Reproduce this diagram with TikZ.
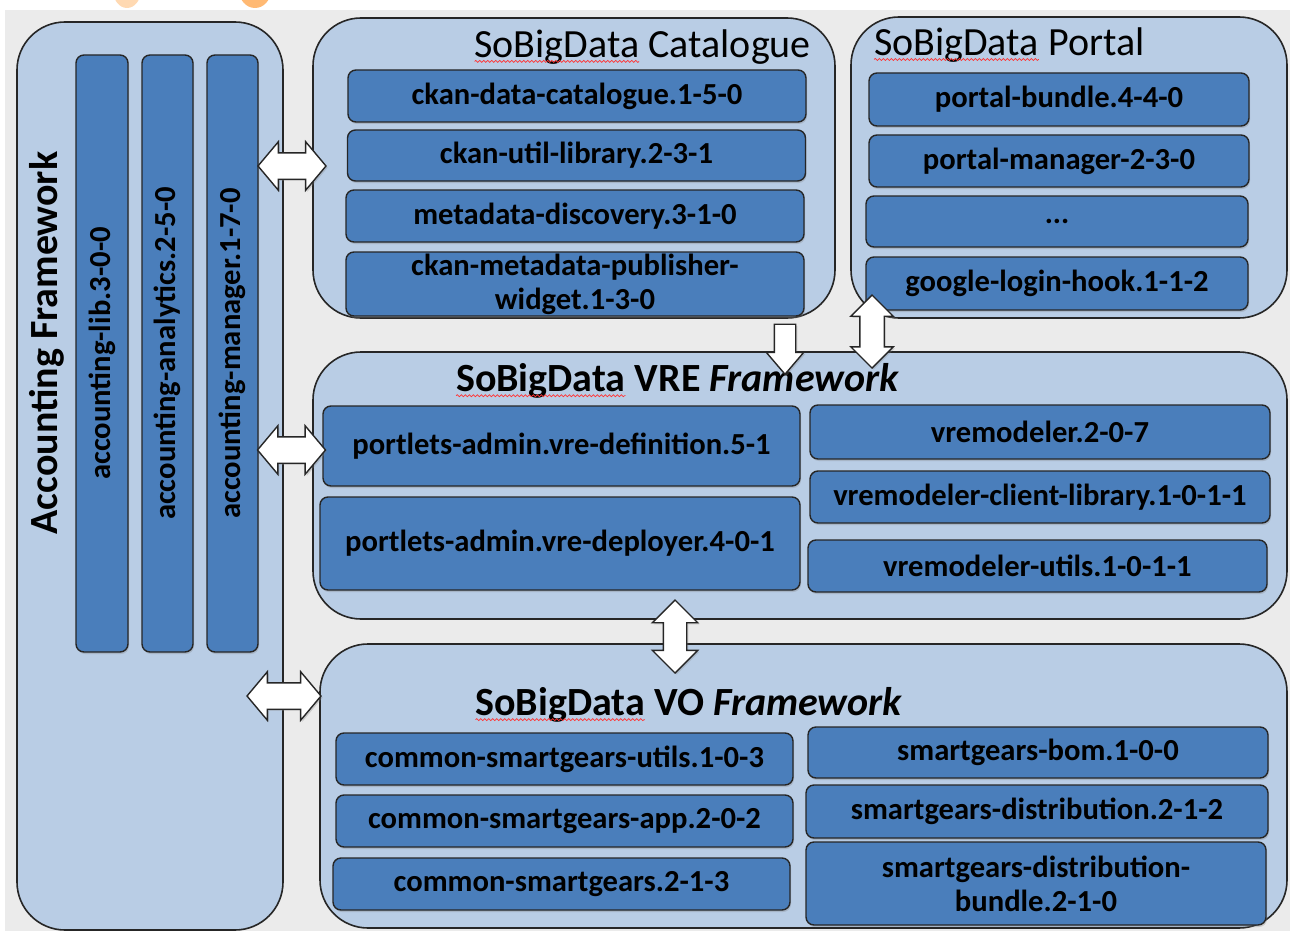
\documentclass[tikz,border=0pt]{standalone}
\usepackage{fontspec}
\setmainfont{Carlito}
\usetikzlibrary{shapes.arrows, shadows, positioning, decorations.pathmorphing}

\definecolor{bggray}{HTML}{EBEBEB}
\definecolor{paleblue}{HTML}{B9CDE5}
\definecolor{pkgblue}{HTML}{4A7EBB}

\tikzset{
  container/.style = {draw=black!85, line width=0.8pt, fill=paleblue, rounded corners=24pt, inner sep=0pt},
  pkg/.style       = {draw=black!85, line width=0.7pt, fill=pkgblue, rounded corners=4pt, inner sep=0pt,
                      align=center, font=\fontsize{15.3}{17}\selectfont\bfseries,
                      drop shadow={opacity=0.3, shadow xshift=0.5pt, shadow yshift=-1pt}},
  heading/.style   = {inner sep=0pt, font=\fontsize{20}{24}\selectfont},
  blockarrow/.style= {draw=black!85, line width=0.7pt, fill=white, inner xsep=0pt,
                      drop shadow={opacity=0.3, shadow xshift=0.8pt, shadow yshift=-0.8pt}},
}

% spell-check squiggle under a word
\newcommand\sbdword[1]{\tikz[baseline=(w.base)]{\node[inner sep=0pt, outer sep=0pt] (w) {#1};
  \draw[red!80, line width=0.35pt, decorate, decoration={snake, amplitude=0.5pt, segment length=2pt}]
    ([yshift=-2pt]w.base west) -- ([yshift=-2pt]w.base east);}}

\begin{document}
\begin{tikzpicture}[x=0.5pt, y=-0.5pt]
  \useasboundingbox (0,0) rectangle (1290,931);
  % backdrop
  \fill[white] (0,0) rectangle (1290,931);
  \fill[orange!30] (127,-10) ellipse [x radius=7pt, y radius=9pt];
  \fill[orange!55] (255,-10) ellipse [x radius=8pt, y radius=9pt];
  \fill[bggray] (5,10) rectangle (1290,931);

  % Accounting Framework
  \node[container, minimum width=133pt, minimum height=454pt] (acc) at (150,476) {};
  \node[heading, font=\fontsize{20}{24}\selectfont\bfseries, rotate=90] (acctitle) at (47,343) {Accounting Framework};
  \node[pkg, rotate=90, minimum width=298.5pt, minimum height=26pt] (alib) at (102,353.5) {accounting-lib.3-0-0};
  \node[pkg, rotate=90, minimum width=298.5pt, minimum height=25.5pt] (aana) at (167.5,353.5) {accounting-analytics.2-5-0};
  \node[pkg, rotate=90, minimum width=298.5pt, minimum height=25.5pt] (aman) at (232.5,353.5) {accounting-manager.1-7-0};

  % Catalogue
  \node[container, minimum width=261pt, minimum height=150pt] (cat) at (574,168) {};
  \node[heading] (cattitle) at (642.5,47) {\sbdword{SoBigData} Catalogue};
  \node[pkg, minimum width=229pt, minimum height=26pt] (ckcat) at (577,96) {ckan-data-catalogue.1-5-0};
  \node[pkg, minimum width=229pt, minimum height=25.5pt] (ckutil) at (576.5,155.5) {ckan-util-library.2-3-1};
  \node[pkg, minimum width=229pt, minimum height=26pt] (mdisc) at (575,216) {metadata-discovery.3-1-0};
  \node[pkg, minimum width=229pt, minimum height=32pt] (ckpub) at (575,284) {ckan-metadata-publisher-\\widget.1-3-0};

  % Portal
  \node[container, minimum width=218pt, minimum height=150.5pt] (por) at (1069,167.5) {};
  \node[heading] (portitle) at (1009,45) {\sbdword{SoBigData} Portal};
  \node[pkg, minimum width=190pt, minimum height=26.5pt] (pbund) at (1059,99.5) {portal-bundle.4-4-0};
  \node[pkg, minimum width=190pt, minimum height=26pt] (pman) at (1059,161) {portal-manager-2-3-0};
  \node[pkg, minimum width=191pt, minimum height=25.5pt] (pdots) at (1057,221.5) {...};
  \node[pkg, minimum width=191pt, minimum height=26.5pt] (glogin) at (1057,283.5) {google-login-hook.1-1-2};

  % VRE Framework
  \node[container, minimum width=487pt, minimum height=133.5pt] (vre) at (800,485.5) {};
  \node[heading, font=\fontsize{20}{24}\selectfont\bfseries] (vretitle) at (677.5,381) {\sbdword{SoBigData} VRE \textit{Framework}};
  \node[pkg, minimum width=238.5pt, minimum height=40pt] (vdef) at (561.5,446) {portlets-admin.vre-definition.5-1};
  \node[pkg, minimum width=240pt, minimum height=46.5pt] (vdep) at (560,543.5) {portlets-admin.vre-deployer.4-0-1};
  \node[pkg, minimum width=230pt, minimum height=27pt] (vmod) at (1040,432) {vremodeler.2-0-7};
  \node[pkg, minimum width=230pt, minimum height=26pt] (vcli) at (1040,497) {vremodeler-client-library.1-0-1-1};
  \node[pkg, minimum width=229.5pt, minimum height=26pt] (vutl) at (1037.5,566) {vremodeler-utils.1-0-1-1};

  % VO Framework
  \node[container, minimum width=483.5pt, minimum height=142pt] (vo) at (803.5,786) {};
  \node[heading, font=\fontsize{20}{24}\selectfont\bfseries] (votitle) at (689,705) {\sbdword{SoBigData} VO \textit{Framework}};
  \node[pkg, minimum width=228.5pt, minimum height=26pt] (sgutl) at (564.5,759) {common-smartgears-utils.1-0-3};
  \node[pkg, minimum width=228.5pt, minimum height=26pt] (sgapp) at (564.5,821) {common-smartgears-app.2-0-2};
  \node[pkg, minimum width=228.5pt, minimum height=26pt] (sgcom) at (561.5,884) {common-smartgears.2-1-3};
  \node[pkg, minimum width=230pt, minimum height=25.5pt] (sgbom) at (1038,752.5) {smartgears-bom.1-0-0};
  \node[pkg, minimum width=231pt, minimum height=26.5pt] (sgdis) at (1037,811.5) {smartgears-distribution.2-1-2};
  \node[pkg, minimum width=230pt, minimum height=41.5pt] (sgbun) at (1036,883.5) {smartgears-distribution-\\bundle.2-1-0};

  % block arrows between the parts
  \node[blockarrow, double arrow, minimum height=34pt, inner ysep=6.25pt,
        double arrow head extend=5.5pt, double arrow tip angle=100] (acc-cat) at (292,166) {};
  \node[blockarrow, double arrow, minimum height=34pt, inner ysep=6.25pt,
        double arrow head extend=5.5pt, double arrow tip angle=100] (acc-vre) at (291.5,450) {};
  \node[blockarrow, double arrow, minimum height=37pt, inner ysep=6.25pt,
        double arrow head extend=5.5pt, double arrow tip angle=100] (acc-vo) at (284,696) {};
  \node[blockarrow, single arrow, rotate=-90, minimum height=25pt, inner ysep=5pt,
        single arrow head extend=4pt, single arrow tip angle=81] (cat-vre) at (785,343) {};
  \node[blockarrow, double arrow, rotate=90, minimum height=36.5pt, inner ysep=5.75pt,
        double arrow head extend=4.5pt, double arrow tip angle=90] (por-vre) at (872,331.5) {};
  \node[blockarrow, double arrow, rotate=90, minimum height=36.5pt, inner ysep=5.5pt,
        double arrow head extend=5.5pt, double arrow tip angle=90] (vre-vo) at (675,636.5) {};
\end{tikzpicture}
\end{document}
